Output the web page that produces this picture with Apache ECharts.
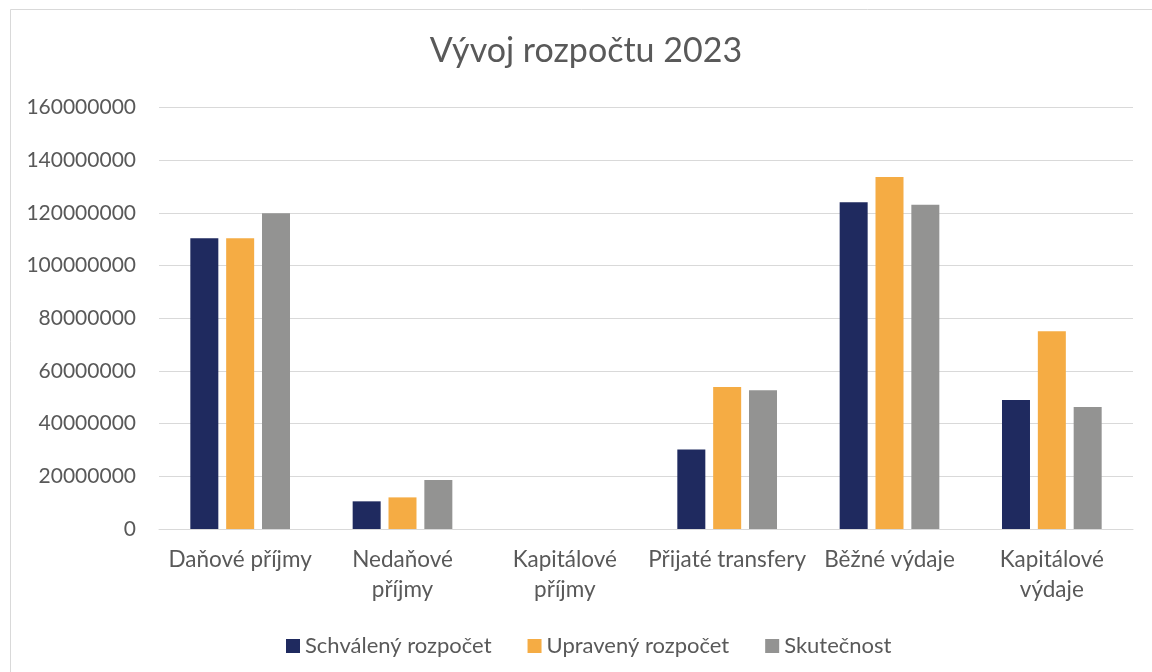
<!DOCTYPE html>
<html>
<head>
<meta charset="utf-8">
<script src="https://cdn.jsdelivr.net/npm/echarts@6/dist/echarts.min.js"></script>
<style>
  html, body { margin: 0; padding: 0; background: #fff; }
  #chart { width: 1152px; height: 672px; }
</style>
</head>
<body>
<div id="chart"></div>
<script>
// kategorie rozpočtu (zalomené jako v originále)
const categories = [
  "Daňové příjmy",
  "Nedaňové\npříjmy",
  "Kapitálové\npříjmy",
  "Přijaté transfery",
  "Běžné výdaje",
  "Kapitálové\nvýdaje",
];

const seriesNames = ["Schválený rozpočet", "Upravený rozpočet", "Skutečnost"];

// hodnoty
const schvaleny = [110400000, 10500000, 0, 30200000, 124000000, 49000000];
const upraveny = [110400000, 12000000, 0, 53900000, 133600000, 75100000];
const skutecnost = [119900000, 18600000, 0, 52700000, 123100000, 46300000];

const yTicks = { min: 0, max: 160000000, interval: 20000000 };

const colors = ["#1F2A5F", "#F5AC44", "#939392"];
const font = "Lato, 'Open Sans', sans-serif";

const chart = echarts.init(document.getElementById("chart"));

const option = {
  backgroundColor: "#fff",
  color: colors,
  animation: false,
  graphic: [
    {
      type: "rect",
      shape: { x: 10.5, y: 9.5, width: 1200, height: 700 },
      style: { fill: "none", stroke: "#d9d9d9", lineWidth: 1 },
      silent: true,
    },
  ],
  title: {
    text: "Vývoj rozpočtu 2023",
    left: 586,
    textAlign: "center",
    top: 34,
    padding: 0,
    textStyle: {
      fontFamily: font,
      fontSize: 34,
      fontWeight: "normal",
      color: "#595959",
    },
  },
  legend: {
    data: seriesNames,
    left: 281,
    top: 630,
    icon: "rect",
    itemWidth: 14,
    itemHeight: 14,
    itemGap: 36,
    textStyle: {
      fontFamily: font,
      fontSize: 22,
      color: "#595959",
    },
  },
  grid: {
    left: 159,
    right: 19,
    top: 107.5,
    bottom: 143,
    containLabel: false,
  },
  xAxis: {
    type: "category",
    data: categories,
    axisLine: { show: true, lineStyle: { color: "#d9d9d9", width: 1 } },
    axisTick: { show: false },
    axisLabel: {
      interval: 0,
      margin: 16,
      fontFamily: font,
      fontSize: 22.5,
      lineHeight: 30,
      color: "#595959",
    },
  },
  yAxis: {
    type: "value",
    min: yTicks.min,
    max: yTicks.max,
    interval: yTicks.interval,
    axisLine: { show: false },
    axisTick: { show: false },
    splitLine: { lineStyle: { color: "#d9d9d9", width: 1 } },
    axisLabel: {
      margin: 23,
      fontFamily: font,
      fontSize: 21,
      color: "#595959",
      formatter: (v) => String(v),
    },
  },
  series: [
    { name: seriesNames[0], type: "bar", data: schvaleny, barWidth: 28, barGap: "28%" },
    { name: seriesNames[1], type: "bar", data: upraveny, barWidth: 28, barGap: "28%" },
    { name: seriesNames[2], type: "bar", data: skutecnost, barWidth: 28, barGap: "28%" },
  ],
};

chart.setOption(option);
</script>
</body>
</html>
